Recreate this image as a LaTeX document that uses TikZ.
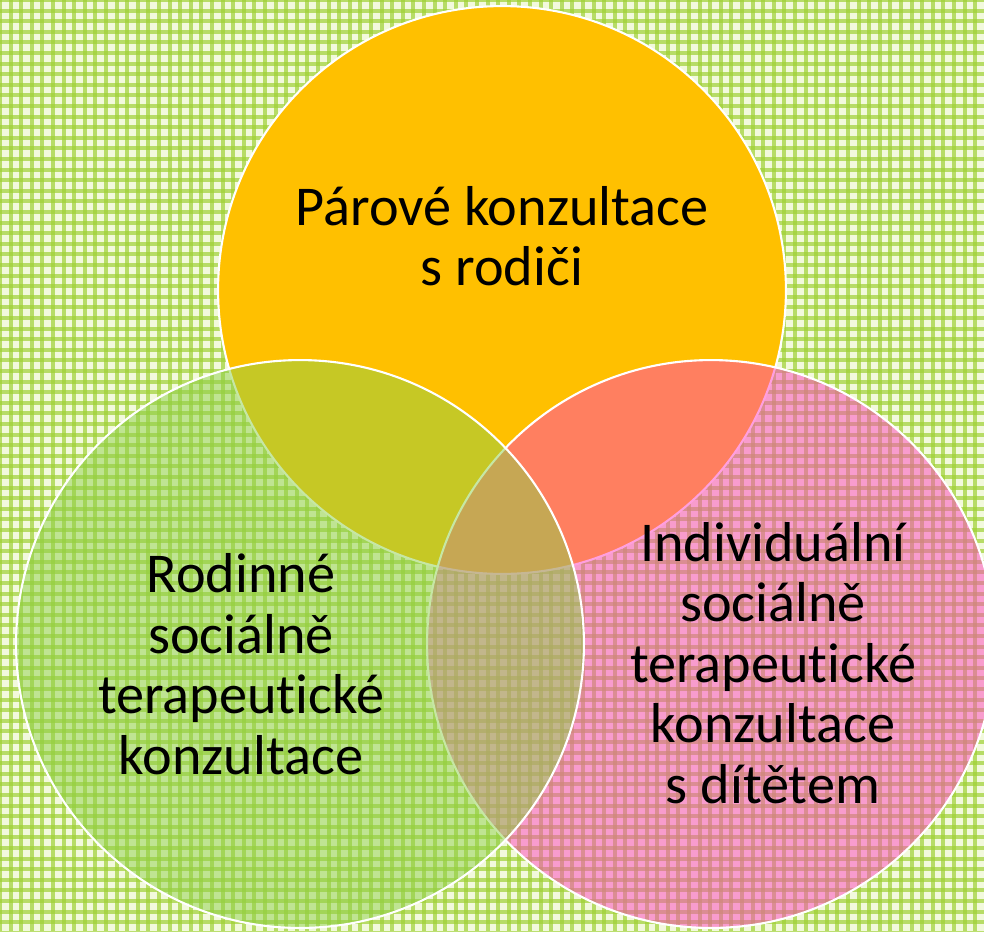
\documentclass[tikz,border=0pt]{standalone}
\usepackage{fontspec}
\setmainfont{Carlito}[Ligatures=NoCommon]
\definecolor{bgpale}{HTML}{F2F9DC}
\definecolor{bggreen}{HTML}{9FD134}
\definecolor{parorange}{HTML}{FFC000}
\definecolor{rodgreen}{HTML}{8ED04A}
\definecolor{indpink}{HTML}{FF40C0}
\begin{document}
\begin{tikzpicture} [
                x=0.02cm, y=-0.02cm,
                venn/.style={circle,draw=white,line width=1.2pt,minimum size=11.36cm,inner sep=0pt},
                see through/.style={venn,fill opacity=0.5},
                label text/.style={font=\fontsize{32}{34.5}\selectfont,align=center,text=black},
                grid line/.style={draw=bggreen,line width=2.2pt,opacity=0.7},
            ]
            \useasboundingbox (0,0) rectangle (984,931);
            % patterned background
            \fill[bgpale] (0,0) rectangle (984,931);
            \foreach \k in {0,...,93} {
                \path[grid line] (\k*10.6,0) -- (\k*10.6,931);
                \path[grid line] (0,\k*10.6) -- (984,\k*10.6);
            }
            % the three circles, green one on top
            \node[venn, fill=parorange] (parove) at (502,290) {};
            \node[see through, fill=indpink] (individualni) at (711,644) {};
            \node[see through, fill=rodgreen] (rodinne) at (300,644) {};
            % labels
            \node[label text] (parove text) at (502,236) {Párové konzultace\\s rodiči};
            \node[label text] (rodinne text) at (241,664) {Rodinné\\sociálně\\terapeutické\\konzultace};
            \node[label text] (individualni text) at (773,663) {Individuální\\sociálně\\terapeutické\\konzultace\\ s dítětem};
        \end{tikzpicture}
\end{document}
